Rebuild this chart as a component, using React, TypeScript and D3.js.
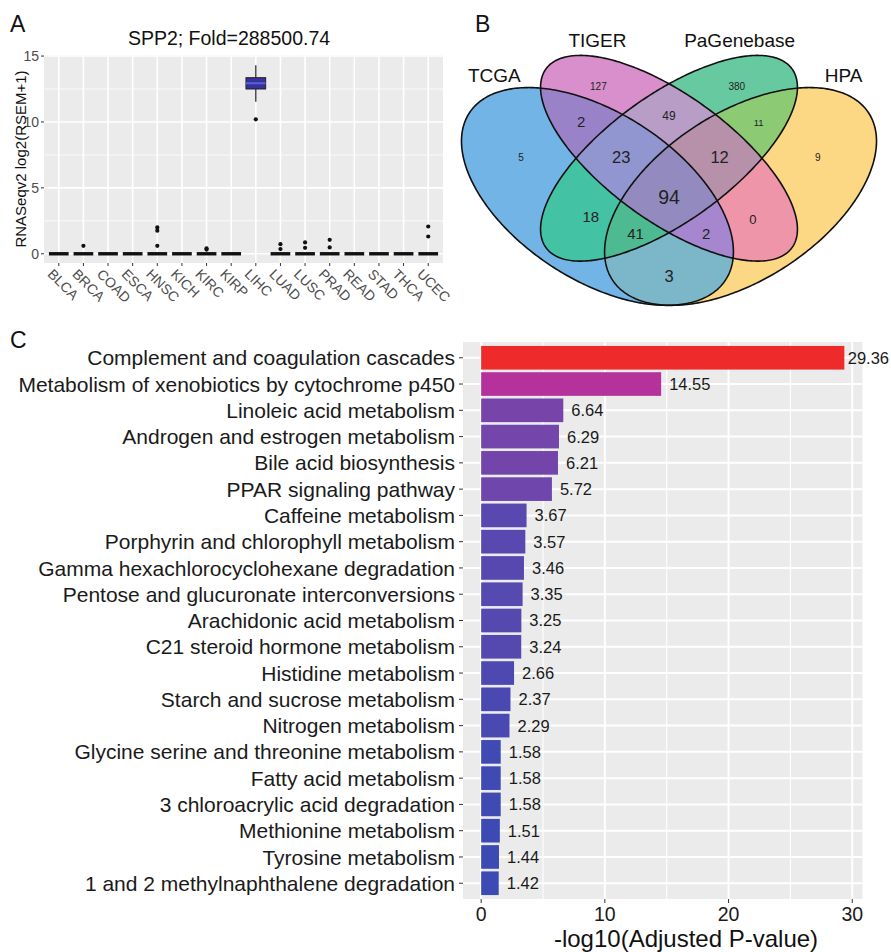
import * as d3 from "d3";

const FONT = "'Liberation Sans', Arial, Helvetica, sans-serif";

// ---------- Panel A: SPP2 expression ----------
const cancerTypes = [
  "BLCA", "BRCA", "COAD", "ESCA", "HNSC", "KICH", "KIRC", "KIRP",
  "LIHC", "LUAD", "LUSC", "PRAD", "READ", "STAD", "THCA", "UCEC",
];
// [lower whisker, Q1, median, Q3, upper whisker]
const boxStats = [
  [0, 0, 0, 0, 0], [0, 0, 0, 0, 0], [0, 0, 0, 0, 0], [0, 0, 0, 0, 0],
  [0, 0, 0, 0, 0], [0, 0, 0, 0, 0], [0, 0, 0, 0, 0], [0, 0, 0, 0, 0],
  [11.54, 12.5, 12.94, 13.36, 14.3],
  [0, 0, 0, 0, 0], [0, 0, 0, 0, 0], [0, 0, 0, 0, 0], [0, 0, 0, 0, 0],
  [0, 0, 0, 0, 0], [0, 0, 0, 0, 0], [0, 0, 0, 0, 0],
];
const outliers = [
  [], [0.6], [], [], [2.0, 1.75, 0.6], [], [0.42, 0.32], [],
  [10.2], [0.73, 0.36], [0.86, 0.45], [1.06, 0.48], [], [], [], [2.07, 1.31],
];
const yTicksA = [0, 5, 10, 15];
const yMinorA = [2.5, 7.5, 12.5];
const titleA = "SPP2; Fold=288500.74";
const yTitleA = "RNASeqv2 log2(RSEM+1)";

// ---------- Panel B: Venn ----------
const vennSets = ["TCGA", "TIGER", "PaGenebase", "HPA"];
// which sets each region belongs to (0 TCGA, 1 TIGER, 2 PaGenebase, 3 HPA)
const vennRegions = [
  [0], [1], [2], [3], [0, 1], [1, 2], [2, 3], [0, 1, 2], [1, 2, 3],
  [0, 1, 2, 3], [0, 2], [1, 3], [0, 2, 3], [0, 1, 3], [0, 3],
];
const vennCounts = [5, 127, 380, 9, 2, 49, 11, 23, 12, 94, 18, 0, 41, 2, 3];

// ---------- Panel C: pathways ----------
const pathways = [
  "Complement and coagulation cascades",
  "Metabolism of xenobiotics by cytochrome p450",
  "Linoleic acid metabolism",
  "Androgen and estrogen metabolism",
  "Bile acid biosynthesis",
  "PPAR signaling pathway",
  "Caffeine metabolism",
  "Porphyrin and chlorophyll metabolism",
  "Gamma hexachlorocyclohexane degradation",
  "Pentose and glucuronate interconversions",
  "Arachidonic acid metabolism",
  "C21 steroid hormone metabolism",
  "Histidine metabolism",
  "Starch and sucrose metabolism",
  "Nitrogen metabolism",
  "Glycine serine and threonine metabolism",
  "Fatty acid metabolism",
  "3 chloroacrylic acid degradation",
  "Methionine metabolism",
  "Tyrosine metabolism",
  "1 and 2 methylnaphthalene degradation",
];
const logP = [
  29.36, 14.55, 6.64, 6.29, 6.21, 5.72, 3.67, 3.57, 3.46, 3.35, 3.25,
  3.24, 2.66, 2.37, 2.29, 1.58, 1.58, 1.58, 1.51, 1.44, 1.42,
];
const xTicksC = [0, 10, 20, 30];
const xMinorC = [5, 15, 25];
const xTitleC = "-log10(Adjusted P-value)";

// ---------- layout / style ----------
const panelBg = "#ebebeb";

// Venn ellipses in unit coords (y up), one per set
const vennEllipses = [
  { cx: 0.35, cy: 0.47, a: 0.35, b: 0.2, rot: 135 },
  { cx: 0.5, cy: 0.57, a: 0.35, b: 0.15, rot: 135 },
  { cx: 0.5, cy: 0.57, a: 0.35, b: 0.15, rot: 45 },
  { cx: 0.65, cy: 0.47, a: 0.35, b: 0.2, rot: 45 },
];
const vennRegionColors = [
  "#72b4e6", "#d98fcb", "#66c9a0", "#fcd784", "#9a82c8", "#b89dc6",
  "#8ccb74", "#9196d0", "#b790aa", "#938bbf", "#44c2a4", "#ee95aa",
  "#4dba92", "#a686ce", "#7bb7c8",
];
const vennSetPos = [
  [0.134, 0.77], [0.35, 0.862], [0.648, 0.862], [0.866, 0.77],
];
// [u, v, font size] for each region label
const vennLayout = [
  [0.19, 0.572, 10], [0.352, 0.758, 10], [0.642, 0.758, 10], [0.812, 0.572, 10],
  [0.316, 0.665, 15], [0.5, 0.68, 12], [0.688, 0.662, 9.5],
  [0.4, 0.574, 16.5], [0.606, 0.574, 16.5], [0.5, 0.468, 19.5],
  [0.336, 0.418, 15], [0.676, 0.41, 13], [0.43, 0.372, 15], [0.578, 0.372, 15],
  [0.5, 0.262, 16.5],
];

export default function App() {
  // Panel A scales
  const xA = d3.scalePoint<string>().domain(cancerTypes).range([44, 443]).padding(0.6);
  const boxW = xA.step() * 0.8;
  const yA = d3.scaleLinear().domain([-0.7, 15.08]).range([263, 55]);

  // Panel B scales
  const vx = d3.scaleLinear().domain([0, 1]).range([430.5, 907.5]);
  const vy = d3.scaleLinear().domain([0, 1]).range([376, -6]);
  const ellipsePath = (e: any) => {
    const r = (e.rot * Math.PI) / 180;
    const pts = d3.range(0, 360, 1).map((deg) => {
      const t = (deg * Math.PI) / 180;
      const ux = e.cx + e.a * Math.cos(t) * Math.cos(r) - e.b * Math.sin(t) * Math.sin(r);
      const uy = e.cy + e.a * Math.cos(t) * Math.sin(r) + e.b * Math.sin(t) * Math.cos(r);
      return [vx(ux), vy(uy)] as [number, number];
    });
    return d3.line().curve(d3.curveLinearClosed)(pts) as string;
  };
  const ellPaths = vennEllipses.map(ellipsePath);

  // Panel C scales
  const xC = d3.scaleLinear().domain([-1.468, 30.828]).range([463, 862.5]);
  const yC = d3.scalePoint<string>().domain(pathways).range([342, 899]).padding(0.6);
  const barH = yC.step() * 0.9;
  const pMin = d3.min(logP) as number;
  const pMax = d3.max(logP) as number;
  const barColor = d3
    .scaleLinear<string>()
    .domain([pMin, (pMin + pMax) / 2, pMax])
    .range(["#3c4ab3", "#bb2f9b", "#ee2a2a"])
    .interpolate(d3.interpolateLab);

  return (
    <svg
      width={891}
      height={952}
      style={{ position: "absolute", left: 0, top: 0, background: "#fff" }}
      fontFamily={FONT}
    >
      <defs>
        {ellPaths.map((d, i) => (
          <clipPath key={"cp" + i} id={"vclip" + i}>
            <path d={d} />
          </clipPath>
        ))}
        {vennRegions.map((inc, i) => (
          <mask key={"mk" + i} id={"vmask" + i} maskUnits="userSpaceOnUse" x={420} y={30} width={471} height={300}>
            <rect x={420} y={30} width={471} height={300} fill="#fff" />
            {ellPaths.map((d, s) => (inc.includes(s) ? null : <path key={s} d={d} fill="#000" />))}
          </mask>
        ))}
      </defs>

      {/* ===== Panel A ===== */}
      <text x={10} y={32} fontSize={23} fill="#111">A</text>
      <text x={229} y={45} fontSize={19.5} textAnchor="middle" fill="#111">{titleA}</text>
      <rect x={44} y={55} width={399} height={208} fill={panelBg} />
      {yMinorA.map((t) => (
        <line key={"am" + t} x1={44} x2={443} y1={yA(t)} y2={yA(t)} stroke="#fff" strokeWidth={0.8} />
      ))}
      {yTicksA.map((t) => (
        <line key={"ag" + t} x1={44} x2={443} y1={yA(t)} y2={yA(t)} stroke="#fff" strokeWidth={1.6} />
      ))}
      {cancerTypes.map((c) => (
        <line key={"av" + c} x1={xA(c)} x2={xA(c)} y1={55} y2={263} stroke="#fff" strokeWidth={1.6} />
      ))}
      {cancerTypes.map((c, i) => {
        const [lw, q1, med, q3, uw] = boxStats[i];
        const cx = xA(c) as number;
        const hasBox = q3 > q1;
        return (
          <g key={"box" + c}>
            {uw > q3 && <line x1={cx} x2={cx} y1={yA(q3)} y2={yA(uw)} stroke="#222" strokeWidth={1.2} />}
            {lw < q1 && <line x1={cx} x2={cx} y1={yA(q1)} y2={yA(lw)} stroke="#222" strokeWidth={1.2} />}
            {hasBox && (
              <rect
                x={cx - boxW / 2}
                y={yA(q3)}
                width={boxW}
                height={yA(q1) - yA(q3)}
                fill="#3a2f9e"
                stroke="#222"
                strokeWidth={1}
              />
            )}
            <line
              x1={cx - boxW / 2}
              x2={cx + boxW / 2}
              y1={yA(med)}
              y2={yA(med)}
              stroke={hasBox ? "#4a66c8" : "#111"}
              strokeWidth={hasBox ? 2.2 : 3.4}
            />
            {outliers[i].map((v, j) => (
              <circle key={j} cx={cx} cy={yA(v)} r={2.1} fill="#111" />
            ))}
          </g>
        );
      })}
      {yTicksA.map((t) => (
        <g key={"at" + t}>
          <line x1={41} x2={44} y1={yA(t)} y2={yA(t)} stroke="#333" strokeWidth={1} />
          <text x={39} y={yA(t)} dy="0.35em" fontSize={14} textAnchor="end" fill="#4d4d4d">{t}</text>
        </g>
      ))}
      {cancerTypes.map((c) => {
        const cx = xA(c) as number;
        return (
          <g key={"ax" + c}>
            <line x1={cx} x2={cx} y1={263} y2={266} stroke="#333" strokeWidth={1} />
            <text
              transform={`translate(${cx - 8.5},${271.5}) rotate(45)`}
              dy="0.35em"
              fontSize={14}
              fill="#4d4d4d"
            >
              {c}
            </text>
          </g>
        );
      })}
      <text transform="translate(26,159) rotate(-90)" fontSize={15} textAnchor="middle" fill="#111">
        {yTitleA}
      </text>

      {/* ===== Panel B ===== */}
      <text x={475} y={32} fontSize={23} fill="#111">B</text>
      {vennRegions.map((inc, i) =>
        inc.reduce(
          (el, s) => <g clipPath={`url(#vclip${s})`}>{el}</g>,
          <rect
            x={420}
            y={30}
            width={471}
            height={300}
            fill={vennRegionColors[i]}
            mask={`url(#vmask${i})`}
          />
        )
      ).map((el, i) => <g key={"vr" + i}>{el}</g>)}
      {ellPaths.map((d, i) => (
        <path key={"vs" + i} d={d} fill="none" stroke="#111" strokeWidth={1.6} />
      ))}
      {vennSets.map((s, i) => (
        <text
          key={"vl" + s}
          x={vx(vennSetPos[i][0])}
          y={vy(vennSetPos[i][1])}
          fontSize={19}
          textAnchor="middle"
          fill="#111"
        >
          {s}
        </text>
      ))}
      {vennCounts.map((n, i) => (
        <text
          key={"vc" + i}
          x={vx(vennLayout[i][0])}
          y={vy(vennLayout[i][1])}
          dy="0.35em"
          fontSize={vennLayout[i][2]}
          textAnchor="middle"
          fill="#222"
        >
          {n}
        </text>
      ))}

      {/* ===== Panel C ===== */}
      <text x={10} y={348} fontSize={23} fill="#111">C</text>
      <rect x={463} y={342} width={399.5} height={557} fill={panelBg} />
      {xMinorC.map((t) => (
        <line key={"cm" + t} x1={xC(t)} x2={xC(t)} y1={342} y2={899} stroke="#fff" strokeWidth={1.1} />
      ))}
      {xTicksC.map((t) => (
        <line key={"cg" + t} x1={xC(t)} x2={xC(t)} y1={342} y2={899} stroke="#fff" strokeWidth={2} />
      ))}
      {pathways.map((p) => (
        <line key={"ch" + p} x1={463} x2={862.5} y1={yC(p)} y2={yC(p)} stroke="#fff" strokeWidth={2} />
      ))}
      {pathways.map((p, i) => {
        const cy = yC(p) as number;
        const xEnd = xC(logP[i]);
        const label = logP[i].toFixed(2);
        const overflow = xEnd + 8 + 42 > 889;
        return (
          <g key={"bar" + p}>
            <rect
              x={xC(0)}
              y={cy - barH / 2}
              width={xEnd - xC(0)}
              height={barH}
              fill={barColor(logP[i])}
            />
            <text
              x={overflow ? 889 : xEnd + 8}
              y={cy}
              dy="0.36em"
              fontSize={16.5}
              textAnchor={overflow ? "end" : "start"}
              fill="#1a1a1a"
            >
              {label}
            </text>
            <line x1={459} x2={463} y1={cy} y2={cy} stroke="#333" strokeWidth={1} />
            <text x={455} y={cy} dy="0.36em" fontSize={21} textAnchor="end" fill="#1a1a1a">
              {p}
            </text>
          </g>
        );
      })}
      {xTicksC.map((t) => (
        <g key={"ct" + t}>
          <line x1={xC(t)} x2={xC(t)} y1={899} y2={903} stroke="#333" strokeWidth={1} />
          <text x={xC(t)} y={921} fontSize={19.5} textAnchor="middle" fill="#1a1a1a">{t}</text>
        </g>
      ))}
      <text x={686} y={947} fontSize={24} textAnchor="middle" fill="#111">{xTitleC}</text>
    </svg>
  );
}
